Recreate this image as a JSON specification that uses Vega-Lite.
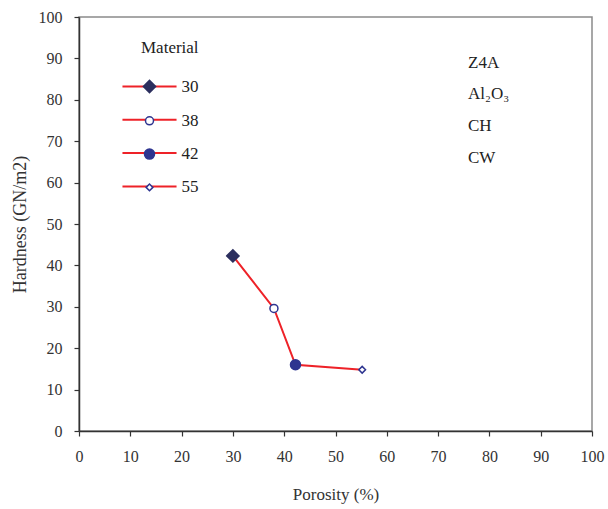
{
  "$schema": "https://vega.github.io/schema/vega-lite/v6.json",
  "width": 513,
  "height": 414,
  "autosize": {"type": "none"},
  "padding": {"left": 79, "top": 17, "right": 16, "bottom": 78},
  "background": "white",
  "config": {
    "view": {"stroke": "#8a8a8a", "strokeWidth": 1.5},
    "font": "Liberation Serif",
    "axis": {
      "grid": false,
      "domainColor": "#333333",
      "domainWidth": 1.5,
      "tickColor": "#333333",
      "tickWidth": 1.2,
      "tickSize": 5,
      "labelFont": "Liberation Serif",
      "labelFontSize": 16,
      "labelColor": "#333333",
      "labelFlush": false,
      "labelOverlap": false,
      "titleFont": "Liberation Serif",
      "titleFontWeight": "normal",
      "titleColor": "#333333"
    },
    "legend": {
      "orient": "none",
      "padding": 0,
      "labelFont": "Liberation Serif",
      "titleFont": "Liberation Serif",
      "labelFontSize": 17,
      "titleFontSize": 17,
      "titleFontWeight": "normal",
      "labelColor": "#222222",
      "titleColor": "#222222"
    }
  },
  "datasets": {
    "points": [
      {"Porosity": 30, "Hardness": 42.3, "Material": "30"},
      {"Porosity": 38, "Hardness": 29.6, "Material": "38"},
      {"Porosity": 42.2, "Hardness": 16, "Material": "42"},
      {"Porosity": 55.2, "Hardness": 14.8, "Material": "55"}
    ],
    "notes": [
      {"Note": "Z4A"},
      {"Note": "Al₂O₃"},
      {"Note": "CH"},
      {"Note": "CW"}
    ]
  },
  "layer": [
    {
      "data": {"name": "points"},
      "mark": {"type": "line", "color": "#ee2228", "strokeWidth": 2},
      "encoding": {
        "x": {
          "field": "Porosity",
          "type": "quantitative",
          "scale": {"domain": [0, 100], "nice": false},
          "axis": {
            "title": "Porosity (%)",
            "values": [0, 10, 20, 30, 40, 50, 60, 70, 80, 90, 100],
            "labelFont": "Liberation Serif",
            "titleFont": "Liberation Serif",
            "labelPadding": 12,
            "titlePadding": 22,
            "titleFontSize": 17
          }
        },
        "y": {
          "field": "Hardness",
          "type": "quantitative",
          "scale": {"domain": [0, 100], "nice": false},
          "axis": {
            "title": "Hardness (GN/m2)",
            "values": [0, 10, 20, 30, 40, 50, 60, 70, 80, 90, 100],
            "labelFont": "Liberation Serif",
            "titleFont": "Liberation Serif",
            "labelPadding": 12,
            "titlePadding": 9,
            "titleFontSize": 18
          }
        }
      }
    },
    {
      "data": {"name": "points"},
      "mark": {"type": "point", "strokeWidth": 1.5, "opacity": 1},
      "encoding": {
        "x": {"field": "Porosity", "type": "quantitative"},
        "y": {"field": "Hardness", "type": "quantitative"},
        "shape": {
          "field": "Material",
          "type": "nominal",
          "scale": {"range": ["diamond", "circle", "circle", "diamond"]},
          "legend": {
            "title": "Material",
            "legendX": 62,
            "legendY": 23,
            "titlePadding": 21,
            "rowPadding": 15.3,
            "labelOffset": 23.5,
            "labelFont": "Liberation Serif",
            "titleFont": "Liberation Serif",
            "symbolStrokeWidth": 1.5,
            "symbolOpacity": 1,
            "encode": {"symbols": {"update": {"opacity": {"value": 1}}}},
            "zindex": 2
          }
        },
        "fill": {
          "field": "Material",
          "type": "nominal",
          "scale": {"range": ["#2c2f5e", "#ffffff", "#2e3590", "#ffffff"]}
        },
        "stroke": {
          "field": "Material",
          "type": "nominal",
          "scale": {"range": ["#2c2f5e", "#2e3590", "#2e3590", "#2e3590"]}
        },
        "size": {
          "field": "Material",
          "type": "nominal",
          "scale": {"type": "ordinal", "range": [150, 64, 100, 45]}
        },
        "opacity": {
          "field": "Material",
          "type": "nominal",
          "scale": {"type": "ordinal", "domain": ["30", "38", "42", "55"], "range": [1, 1, 1, 1]},
          "legend": {
            "title": "Material",
            "titleOpacity": 0,
            "legendX": 62,
            "legendY": 23,
            "titlePadding": 21,
            "rowPadding": 15.3,
            "labelOffset": 23.5,
            "labelOpacity": 0,
            "labelFont": "Liberation Serif",
            "titleFont": "Liberation Serif",
            "symbolType": "M-5,0H5",
            "symbolSize": 117,
            "symbolStrokeColor": "#ee2228",
            "symbolFillColor": "transparent",
            "symbolStrokeWidth": 2,
            "symbolOpacity": 1,
            "zindex": 1
          }
        }
      }
    },
    {
      "data": {"name": "notes"},
      "mark": {"type": "point", "opacity": 0},
      "encoding": {
        "color": {
          "field": "Note",
          "type": "nominal",
          "scale": {"domain": ["Z4A", "Al₂O₃", "CH", "CW"], "range": ["#222222", "#222222", "#222222", "#222222"]},
          "legend": {
            "title": null,
            "legendX": 372,
            "legendY": 37,
            "rowPadding": 13.8,
            "labelOffset": 0,
            "labelFont": "Liberation Serif",
            "symbolSize": 0,
            "symbolOpacity": 0,
            "zindex": 3
          }
        }
      }
    }
  ]
}
